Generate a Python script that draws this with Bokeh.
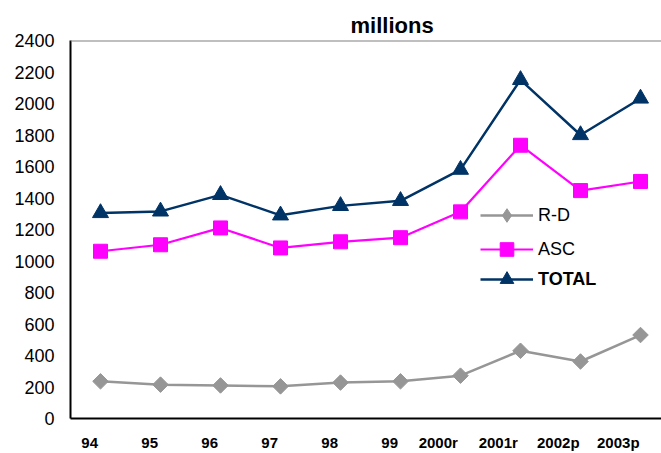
import math
from bokeh.plotting import figure
from bokeh.models import (Range1d, FixedTicker, CustomJSTickFormatter, Legend, LegendItem,
                          Span, Title, ColumnDataSource)
from bokeh.embed import file_html
from bokeh.resources import INLINE

years = ["94", "95", "96", "97", "98", "99", "2000r", "2001r", "2002p", "2003p"]
rd = [236, 215, 210, 204, 228, 236, 272, 430, 362, 530]
asc = [1062, 1103, 1210, 1083, 1122, 1148, 1312, 1735, 1447, 1505]
total = [1305, 1315, 1420, 1290, 1350, 1382, 1580, 2150, 1800, 2032]
y_ticks = list(range(0, 2401, 200))

FONT = "Liberation Sans"
GRAY = "#969696"
MAG = "#FF00FF"
NAVY = "#003366"

idx = list(range(len(years)))
src = ColumnDataSource(dict(x=idx, rd=rd, asc=asc, total=total))

p = figure(width=661, height=453, output_backend="svg", toolbar_location=None,
           x_range=Range1d(-0.5, 9.35), y_range=Range1d(0, 2400),
           min_border_left=70, min_border_right=0, min_border_top=40, min_border_bottom=33)
p.outline_line_color = None
p.background_fill_color = "white"
p.border_fill_color = "white"
p.xgrid.grid_line_color = None
p.ygrid.grid_line_color = None

p.title = Title(text="millions", text_font=FONT, text_font_size="22px", text_font_style="bold",
                align="left", offset=280, standoff=6, text_color="black")

# y axis
p.yaxis.ticker = FixedTicker(ticks=y_ticks)
p.yaxis.major_tick_line_color = None
p.yaxis.minor_tick_line_color = None
p.yaxis.major_tick_out = 0
p.yaxis.major_tick_in = 0
p.yaxis.major_label_standoff = 16
p.yaxis.major_label_text_font = FONT
p.yaxis.major_label_text_font_size = "18px"
p.yaxis.major_label_text_color = "black"
p.yaxis.axis_line_color = "black"
p.yaxis.axis_line_width = 2

# x axis (labels sit slightly left of the points, as in the original)
xt = [i - (0.18 if len(lbl) <= 2 else 0.37) for i, lbl in enumerate(years)]
p.xaxis.ticker = FixedTicker(ticks=xt)
p.xaxis.formatter = CustomJSTickFormatter(args=dict(labels=years),
                                          code="return labels[Math.round(tick + 0.4)]")
p.xaxis.major_tick_line_color = None
p.xaxis.minor_tick_line_color = None
p.xaxis.major_tick_out = 0
p.xaxis.major_tick_in = 0
p.xaxis.major_label_standoff = 15
p.xaxis.major_label_text_font = FONT
p.xaxis.major_label_text_font_size = "15px"
p.xaxis.major_label_text_font_style = "bold"
p.xaxis.major_label_text_color = "black"
p.xaxis.axis_line_color = "black"
p.xaxis.axis_line_width = 2

p.add_layout(Span(location=2400, dimension="width", line_color="#808080", line_width=2))

l_rd = p.line("x", "rd", source=src, line_color=GRAY, line_width=2.5)
# small diamonds used as the legend key (the legend does not rotate markers);
# in the plot they are hidden under the rotated squares drawn next
key_rd = p.scatter("x", "rd", source=src, marker="diamond", size=4,
                   fill_color=GRAY, line_color=GRAY)
m_rd = p.scatter("x", "rd", source=src, marker="square", angle=math.pi / 4, size=11,
                 fill_color=GRAY, line_color=GRAY)
l_asc = p.line("x", "asc", source=src, line_color=MAG, line_width=2.2)
m_asc = p.scatter("x", "asc", source=src, marker="square", size=14,
                  fill_color=MAG, line_color=MAG)
l_tot = p.line("x", "total", source=src, line_color=NAVY, line_width=2.5)
m_tot = p.scatter("x", "total", source=src, marker="triangle", size=16,
                  fill_color=NAVY, line_color=NAVY)

common = dict(glyph_width=53, glyph_height=34, label_height=34, spacing=-3, padding=0, margin=0,
              label_standoff=5, border_line_color=None, background_fill_alpha=0,
              label_text_font=FONT, label_text_font_size="18px", label_text_color="black")
leg1 = Legend(items=[LegendItem(label="R-D", renderers=[l_rd, key_rd]),
                     LegendItem(label="ASC", renderers=[l_asc, m_asc])],
              location=(410, 152), **common)
leg2 = Legend(items=[LegendItem(label="TOTAL", renderers=[l_tot, m_tot])],
              location=(410, 122), label_text_font_style="bold", **common)
p.add_layout(leg1, "center")
p.add_layout(leg2, "center")

open("out.html", "w").write(file_html(p, INLINE))
